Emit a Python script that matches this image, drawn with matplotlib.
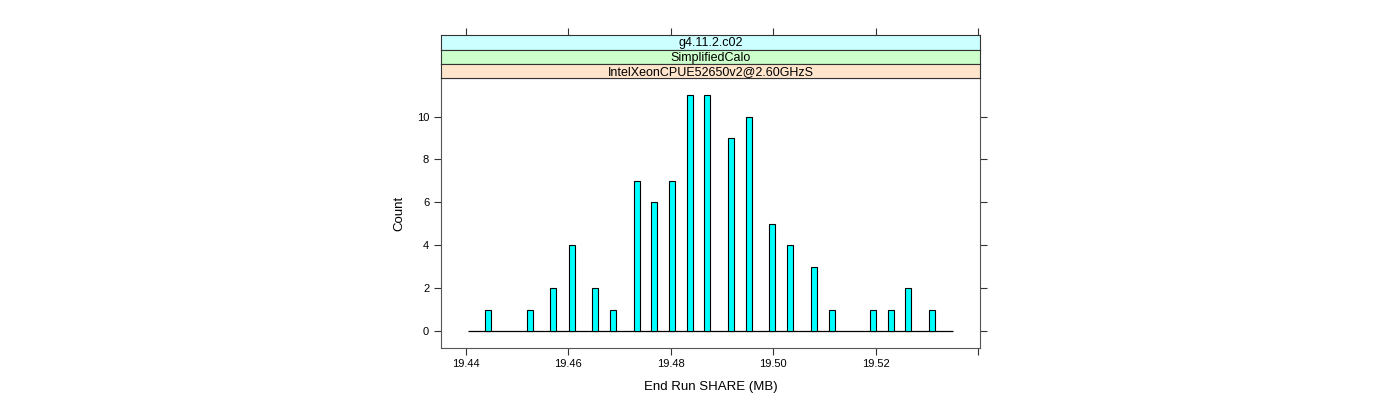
# lattice style histogram of end run SHARE memory
import numpy as np
import matplotlib.pyplot as plt

plt.rcParams['font.family'] = ['Liberation Sans', 'DejaVu Sans']

# bar centres (MB) and counts
share_mb = [19.44436, 19.45244, 19.45705, 19.46064, 19.46525, 19.46865,
            19.47334, 19.47678, 19.48023, 19.48369, 19.48713, 19.49182,
            19.49521, 19.49982, 19.50334, 19.50797, 19.51143, 19.51955,
            19.52295, 19.52639, 19.53107]
counts = [1, 1, 2, 4, 2, 1, 7, 6, 7, 11, 11, 9, 10, 5, 4, 3, 1, 1, 1, 2, 1]
hist_range = [19.4403, 19.5352]
bin_width = 0.00115

strip_labels = ['g4.11.2.c02', 'SimplifiedCalo', 'IntelXeonCPUE52650v2@2.60GHzS']
strip_colors = ['#ccffff', '#ccffcc', '#ffe5cc']

xticks = [19.44, 19.46, 19.48, 19.50, 19.52]
xlim = (19.4351, 19.5404)
ylim = (-0.76, 11.77)

fig = plt.figure(figsize=(14, 4), dpi=100)
ax = fig.add_axes([0.315, 0.1308, 0.385, 0.673])

ax.hlines(0, hist_range[0], hist_range[1], color='black', lw=0.9, zorder=1)
ax.bar(share_mb, counts, width=bin_width, color='#00ffff',
       edgecolor='black', lw=0.8, zorder=2)

ax.set_xlim(xlim)
ax.set_ylim(ylim)
ax.set_xticks(xticks + [19.54])
ax.set_xticklabels(['%.2f' % v for v in xticks] + [''])
ax.set_yticks(np.arange(0, 11, 2))
ax.tick_params(direction='out', length=5, width=0.8, labelsize=8,
               right=True, colors='#333333', labelcolor='black')
ax.set_xlabel('End Run SHARE (MB)', fontsize=9.5, labelpad=8)
ax.set_ylabel('Count', fontsize=9.5, labelpad=8)
for s in ax.spines.values():
    s.set_color('#555555')
    s.set_linewidth(0.8)

# strips on top, bottom one first
h = 0.036
for i, (lab, col) in enumerate(zip(strip_labels, strip_colors)):
    sax = fig.add_axes([0.315, 0.804 + (2 - i) * h, 0.385, h])
    sax.set_facecolor(col)
    sax.set_xlim(xlim)
    sax.set_yticks([])
    sax.text(0.5, 0.45, lab, transform=sax.transAxes, ha='center',
             va='center', fontsize=9)
    if i == 0:
        sax.set_xticks(xticks + [19.54])
        sax.tick_params(axis='x', direction='out', length=5, width=0.8,
                        top=True, bottom=False, labelbottom=False,
                        colors='#333333')
    else:
        sax.set_xticks([])
    for s in sax.spines.values():
        s.set_color('#333333')
        s.set_linewidth(0.8)

plt.savefig('out.png', dpi=100)
